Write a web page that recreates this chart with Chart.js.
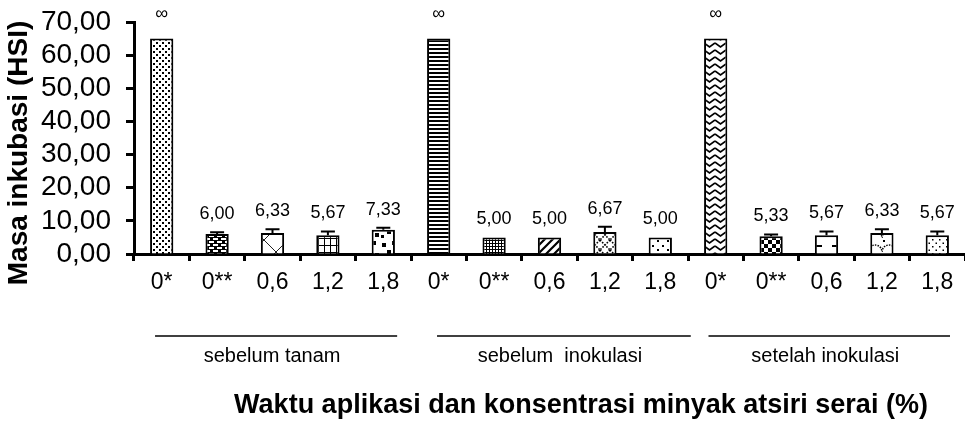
<!DOCTYPE html>
<html>
<head>
<meta charset="utf-8">
<script src="https://cdn.jsdelivr.net/npm/chart.js@4/dist/chart.umd.min.js"></script>
<style>
  html, body { margin: 0; padding: 0; background: #fff; }
  #wrap { width: 965px; height: 421px; position: relative; }
</style>
</head>
<body>
<div id="wrap"><canvas id="chart" width="965" height="421"></canvas></div>
<script>
// Concentrations (%) tested in each application time
const concentrations = ['0*', '0**', '0,6', '1,2', '1,8'];
// Application times
const applicationTimes = ['sebelum tanam', 'sebelum  inokulasi', 'setelah inokulasi'];
// One category per bar
const categories = applicationTimes.flatMap(() => concentrations);
// Mean incubation period (HSI); the untreated controls never showed symptoms (∞)
const meanValues = [65, 6.00, 6.33, 5.67, 7.33,
                    65, 5.00, 5.00, 6.67, 5.00,
                    65, 5.33, 5.67, 6.33, 5.67];
const errorValues = [0, 0.58, 1.15, 1.15, 0.58,
                     0, 0, 0, 1.53, 0,
                     0, 0.58, 1.15, 1.15, 1.15];
const noSymptom = [true, false, false, false, false,
                   true, false, false, false, false,
                   true, false, false, false, false];
const yTickValues = [0, 10, 20, 30, 40, 50, 60, 70];

const fmt = v => v.toFixed(2).replace('.', ',');
const valueLabels = meanValues.map((v, i) => noSymptom[i] ? '\u221E' : fmt(v));

const FONT = '"Liberation Sans", Arial, Helvetica, sans-serif';

// ---- fill patterns for the bars ----
function tile(w, h, paint) {
  const c = document.createElement('canvas');
  c.width = w; c.height = h;
  const g = c.getContext('2d');
  g.fillStyle = '#fff'; g.fillRect(0, 0, w, h);
  g.fillStyle = '#000'; g.strokeStyle = '#000';
  paint(g, w, h);
  return g.createPattern(c, 'repeat');
}
const painters = [
  // fine dots
  (g) => { g.fillRect(0, 0, 2, 2); g.fillRect(3, 3, 2, 2); },
  // dark bricks
  (g, w, h) => { g.fillRect(0, 0, w, h); g.fillStyle = '#fff';
    g.fillRect(1, 1, 5, 2); g.fillRect(5, 4, 3, 2); g.fillRect(0, 4, 2, 2); },
  // large diagonal cross
  (g, w, h) => { g.lineWidth = 1; g.strokeStyle = '#222'; g.beginPath();
    g.moveTo(0, 0); g.lineTo(w, h); g.moveTo(w, 0); g.lineTo(0, h); g.stroke(); },
  // large grid
  (g, w, h) => { g.fillRect(0, 0, w, 1); g.fillRect(0, 0, 1, h); },
  // large confetti
  (g) => { g.fillRect(2, 3, 4, 4); g.fillRect(12, 1, 4, 4); g.fillRect(7, 10, 4, 4);
    g.fillRect(15, 13, 4, 4); g.fillRect(1, 15, 3, 3); },
  // narrow horizontal lines
  (g, w) => { g.fillRect(0, 0, w, 2); },
  // fine grid
  (g, w, h) => { g.fillRect(0, 0, w, 1); g.fillRect(0, 0, 1, h); },
  // wide upward diagonal
  (g, w, h) => { g.lineWidth = 2.2; g.beginPath();
    g.moveTo(0, h); g.lineTo(w, 0); g.moveTo(-2, 2); g.lineTo(2, -2);
    g.moveTo(w - 2, h + 2); g.lineTo(w + 2, h - 2); g.stroke(); },
  // dotted diamonds
  (g, w, h) => { g.lineWidth = 1.6; g.setLineDash([1.6, 1.4]); g.beginPath();
    g.moveTo(0, 0); g.lineTo(w, h); g.moveTo(w, 0); g.lineTo(0, h); g.stroke(); },
  // sparse small marks
  (g) => { g.fillRect(2, 2, 2, 2); g.fillRect(7, 6, 2, 2); },
  // zigzag
  (g, w, h) => { g.lineWidth = 1.6; g.beginPath();
    g.moveTo(0, 1); g.lineTo(w / 2, h - 2); g.lineTo(w, 1); g.stroke(); },
  // large checkerboard
  (g) => { g.fillRect(0, 0, 4, 4); g.fillRect(4, 4, 4, 4); },
  // sparse dashes
  (g) => { g.fillRect(4, 7, 8, 2); },
  // shingles
  (g, w, h) => { g.lineWidth = 1.5; g.setLineDash([1.5, 1.2]); g.beginPath();
    g.arc(w / 2, h, w / 2, Math.PI, 2 * Math.PI); g.stroke();
    g.fillRect(1, 2, 2, 2); },
  // sparse dots
  (g) => { g.fillRect(1, 1, 1.5, 1.5); g.fillRect(4.5, 4.5, 1.5, 1.5); }
];
const tileSizes = [[6, 6], [8, 6], [24, 24], [6, 7], [20, 20], [4, 4], [3, 3], [8, 8],
                   [10, 10], [10, 9], [11, 7], [8, 8], [18, 14], [14, 14], [7, 7]];
const fills = painters.map((p, i) => tile(tileSizes[i][0], tileSizes[i][1], p));

// ---- error bars, value labels, group brackets and axis titles ----
const annotate = {
  id: 'annotate',
  afterDatasetsDraw(chart) {
    const { ctx } = chart;
    const y = chart.scales.y;
    const meta = chart.getDatasetMeta(0);
    ctx.save();
    ctx.strokeStyle = '#000';
    ctx.fillStyle = '#000';
    ctx.lineWidth = 2;
    meta.data.forEach((bar, i) => {
      const top = y.getPixelForValue(meanValues[i] + errorValues[i]);
      if (errorValues[i] > 0) {
        ctx.beginPath();
        ctx.moveTo(bar.x, y.getPixelForValue(meanValues[i]));
        ctx.lineTo(bar.x, top);
        ctx.moveTo(bar.x - 7, top);
        ctx.lineTo(bar.x + 7, top);
        ctx.stroke();
      }
      ctx.font = '18px ' + FONT;
      ctx.textAlign = 'center';
      ctx.textBaseline = 'alphabetic';
      ctx.fillText(valueLabels[i], bar.x, top - (noSymptom[i] ? 20 : 13));
    });
    ctx.restore();
  },
  afterDraw(chart) {
    const { ctx } = chart;
    const x = chart.scales.x;
    const step = x.getPixelForValue(1) - x.getPixelForValue(0);
    const spans = [[-0.12, 0.25], [-0.03, 0.55], [-0.13, 0.23]];
    ctx.save();
    ctx.fillStyle = '#000';
    ctx.strokeStyle = '#000';
    applicationTimes.forEach((name, g) => {
      const first = g * concentrations.length;
      const last = first + concentrations.length - 1;
      const x0 = x.getPixelForValue(first) + spans[g][0] * step;
      const x1 = x.getPixelForValue(last) + spans[g][1] * step;
      ctx.lineWidth = 1.5;
      ctx.beginPath();
      ctx.moveTo(x0, 336);
      ctx.lineTo(x1, 336);
      ctx.stroke();
      ctx.font = '20px ' + FONT;
      ctx.textAlign = 'center';
      ctx.textBaseline = 'middle';
      ctx.fillText(name, (x0 + x1) / 2 - 4, 356);
    });
    ctx.font = 'bold 27px ' + FONT;
    ctx.textAlign = 'center';
    ctx.textBaseline = 'middle';
    ctx.fillText('Waktu aplikasi dan konsentrasi minyak atsiri serai (%)', 581, 406);
    ctx.translate(19, 153);
    ctx.rotate(-Math.PI / 2);
    ctx.font = 'bold 28px ' + FONT;
    ctx.fillText('Masa inkubasi (HSI)', 0, 0);
    ctx.restore();
  }
};

new Chart(document.getElementById('chart'), {
  type: 'bar',
  data: {
    labels: categories,
    datasets: [{
      data: meanValues,
      backgroundColor: fills,
      borderColor: '#000',
      borderWidth: 2,
      categoryPercentage: 1,
      barPercentage: 0.42
    }]
  },
  options: {
    responsive: false,
    animation: false,
    devicePixelRatio: 1,
    layout: { padding: { top: 22, right: 0, bottom: 0, left: 0 } },
    plugins: { legend: { display: false }, tooltip: { enabled: false } },
    scales: {
      x: {
        offset: true,
        grid: { display: true, drawOnChartArea: false, drawTicks: true, offset: true,
                tickLength: 7, tickWidth: 3, tickColor: '#000' },
        border: { display: true, color: '#000', width: 3 },
        ticks: { color: '#000', font: { family: FONT, size: 23 }, padding: 8,
                 maxRotation: 0, autoSkip: false },
        afterFit(s) { s.height = 421 - 254; }
      },
      y: {
        min: 0, max: 70,
        afterBuildTicks(s) { s.ticks = yTickValues.map(v => ({ value: v })); },
        grid: { display: true, drawOnChartArea: false, drawTicks: true,
                tickLength: 8, tickWidth: 3, tickColor: '#000' },
        border: { display: true, color: '#000', width: 3 },
        ticks: { color: '#000', font: { family: FONT, size: 28 }, padding: 15,
                 autoSkip: false, callback: v => fmt(v) },
        afterFit(s) { s.width = 134; s.paddingTop = 0; s.paddingBottom = 0; }
      }
    }
  },
  plugins: [annotate]
});
</script>
</body>
</html>
